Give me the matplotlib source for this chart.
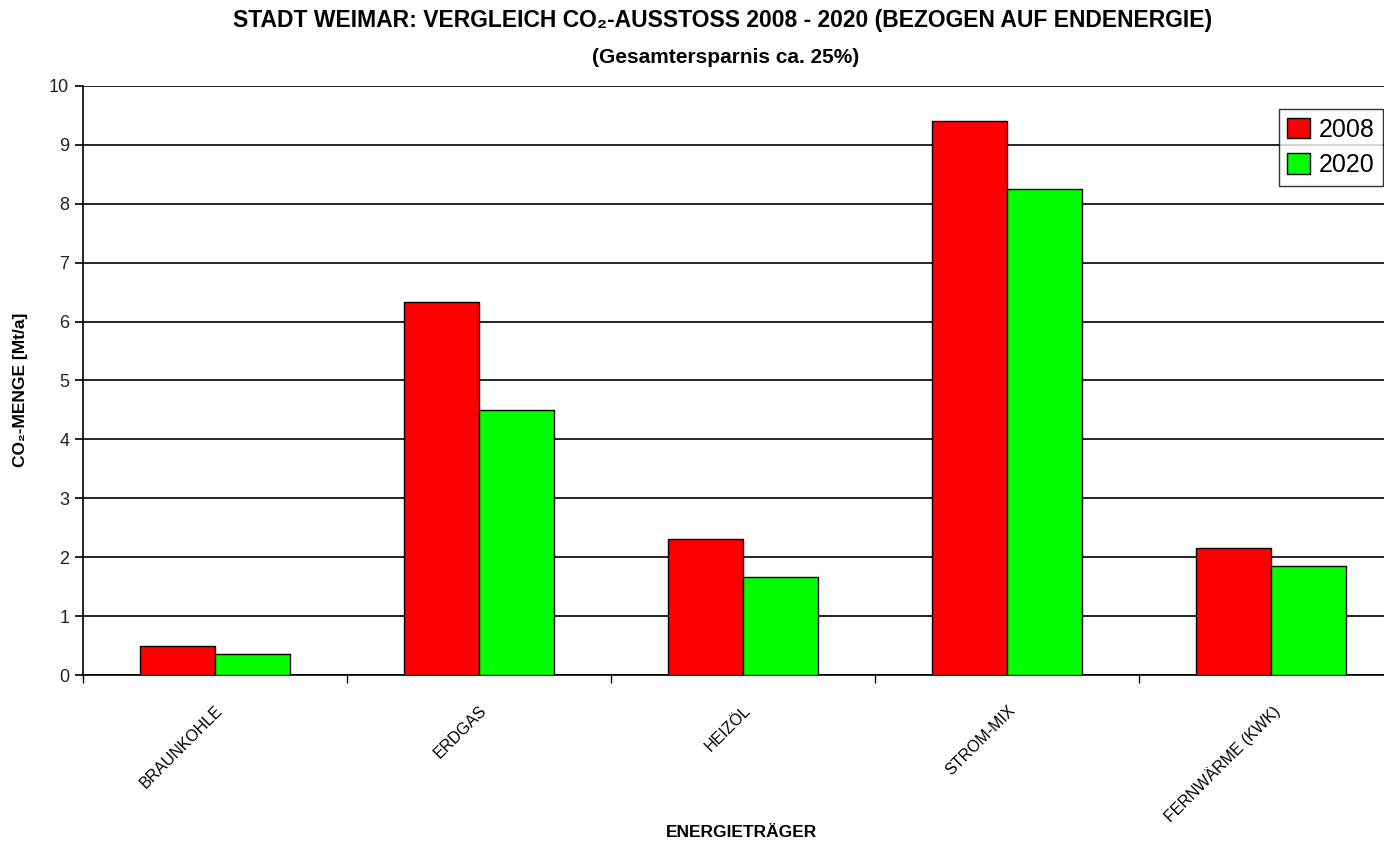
import matplotlib
matplotlib.use("Agg")
import matplotlib.pyplot as plt
import numpy as np

# CO2-Ausstoß je Energieträger in Mt/a
kategorien = ["BRAUNKOHLE", "ERDGAS", "HEIZÖL", "STROM-MIX", "FERNWÄRME (KWK)"]
werte_2008 = [0.49, 6.33, 2.31, 9.41, 2.16]
werte_2020 = [0.36, 4.50, 1.66, 8.25, 1.85]
jahre = ["2008", "2020"]
farben = ["#ff0000", "#00ff00"]

plt.rcParams["font.family"] = ["Liberation Sans", "DejaVu Sans"]


def plot_vergleich():
    fig = plt.figure(figsize=(13.84, 8.44), dpi=100)
    ax = fig.add_axes([0.06, 0.2002, 0.954, 0.698])

    x = np.arange(len(kategorien))
    breite = 0.284
    balken = []
    for k, (werte, farbe) in enumerate(zip([werte_2008, werte_2020], farben)):
        b = ax.bar(x + (k - 0.5) * breite, werte, width=breite, color=farbe,
                   edgecolor="black", linewidth=1.0, zorder=3, label=jahre[k])
        balken.append(b)

    ax.set_xlim(-0.5, len(kategorien) - 0.5)
    ax.set_ylim(0, 10)
    ax.set_yticks(range(0, 11))

    # Gitterlinien durchgehend schwarz
    ax.grid(axis="y", color="black", linewidth=1.2, zorder=0)
    ax.set_axisbelow(True)

    for s in ["top", "right"]:
        ax.spines[s].set_visible(False)
    ax.spines["left"].set_linewidth(1.2)
    ax.spines["bottom"].set_linewidth(1.2)

    ax.tick_params(axis="y", direction="out", length=6, width=1.2,
                   labelsize=13, labelcolor="#222222", pad=4)

    # Beschriftung mittig, Striche zwischen den Kategorien
    ax.set_xticks(x)
    ax.set_xticklabels(kategorien, rotation=45, ha="right",
                       rotation_mode="anchor", fontsize=11.5)
    ax.tick_params(axis="x", which="major", length=0, pad=20)
    ax.set_xticks(np.arange(len(kategorien) + 1) - 0.5, minor=True)
    ax.tick_params(axis="x", which="minor", direction="out", length=6, width=1.0)

    fig.text(0.522, 0.976, "STADT WEIMAR: VERGLEICH CO₂-AUSSTOSS 2008 - 2020 (BEZOGEN AUF ENDENERGIE)",
             ha="center", va="center", fontsize=16.5, fontweight="bold")
    fig.text(0.524, 0.932, "(Gesamtersparnis ca. 25%)",
             ha="center", va="center", fontsize=15, fontweight="bold")

    fig.text(0.0145, 0.538, "CO₂-MENGE [Mt/a]", rotation=90,
             ha="center", va="center", fontsize=12.5, fontweight="bold")
    fig.text(0.536, 0.014, "ENERGIETRÄGER", ha="center", va="center",
             fontsize=12.5, fontweight="bold")

    leg = fig.legend(handles=balken, labels=jahre, loc="upper right",
                     bbox_to_anchor=(0.9995, 0.871), fontsize=18,
                     frameon=True, fancybox=False, handlelength=0.9,
                     handleheight=0.9, handletextpad=0.35, borderpad=0.35,
                     borderaxespad=0.0, labelspacing=0.45)
    leg.get_frame().set_edgecolor("black")
    leg.get_frame().set_linewidth(1.0)

    fig.savefig("out.png", dpi=100)


if __name__ == "__main__":
    plot_vergleich()
